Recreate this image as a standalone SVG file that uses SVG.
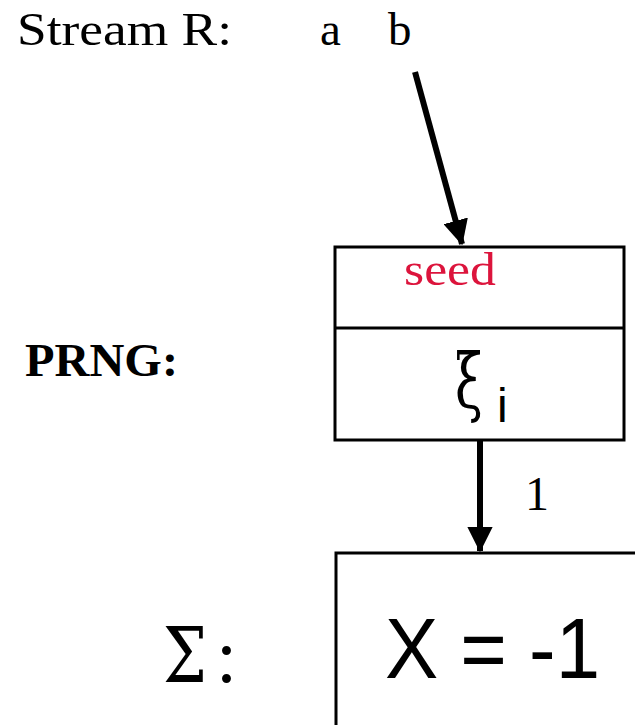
<svg xmlns="http://www.w3.org/2000/svg" width="635" height="725" viewBox="0 0 635 725">
<style>
.serif{font-family:"Liberation Serif","DejaVu Serif",serif;fill:#000}
.greek{font-family:"DejaVu Serif","Noto Serif",serif;fill:#000}
.sans{font-family:"Liberation Sans",Arial,sans-serif;fill:#000}
.box{fill:#fff;stroke:#000;stroke-width:3}
.conn{stroke:#000;stroke-width:6;fill:none}
</style>
<defs>
<marker id="ah" markerWidth="4.2" markerHeight="4.2" refX="4" refY="2.1" orient="auto" markerUnits="strokeWidth">
<path d="M0,0 L4.2,2.1 L0,4.2 Z" fill="#000"/>
</marker>
</defs>
<rect width="635" height="725" fill="#fff"/>
<g id="stream">
<text class="serif" x="17" y="45" font-size="47" textLength="215" lengthAdjust="spacingAndGlyphs">Stream R:</text>
<text class="serif" x="320" y="45" font-size="47">a</text>
<text class="serif" x="388" y="45" font-size="47">b</text>
</g>
<g id="prng">
<text class="serif" x="25" y="376" font-size="47" font-weight="bold" textLength="153" lengthAdjust="spacingAndGlyphs">PRNG:</text>
<rect class="box" x="335" y="247" width="289" height="193"/>
<line x1="335" y1="328" x2="624" y2="328" stroke="#000" stroke-width="3"/>
<text class="serif" x="404" y="285" font-size="46" style="fill:#DC143C" textLength="92" lengthAdjust="spacingAndGlyphs">seed</text>
<text class="greek" transform="translate(455,407) scale(0.68,1)" font-size="74">ξ</text>
<text class="sans" x="497" y="422" font-size="48">i</text>
</g>
<g id="sigma">
<text class="greek" x="163" y="682" font-size="76" textLength="44" lengthAdjust="spacingAndGlyphs">Σ</text>
<text class="serif" x="216" y="682" font-size="76">:</text>
<rect class="box" x="336" y="553" width="320" height="200"/>
<text class="sans" x="385" y="678" font-size="86" textLength="215" lengthAdjust="spacingAndGlyphs">X = -1</text>
</g>
<g id="connectors">
<line class="conn" x1="415" y1="72" x2="462" y2="244" marker-end="url(#ah)"/>
<line class="conn" x1="480" y1="441" x2="480" y2="551" marker-end="url(#ah)"/>
<text class="serif" x="525" y="510" font-size="48">1</text>
</g>
</svg>
